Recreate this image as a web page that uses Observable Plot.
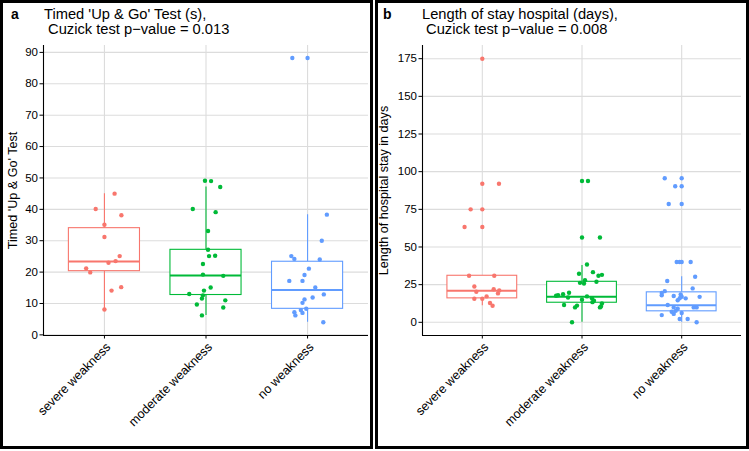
<!DOCTYPE html>
<html>
<head>
<meta charset="utf-8">
<script src="https://cdn.jsdelivr.net/npm/d3@7"></script>
<script src="https://cdn.jsdelivr.net/npm/@observablehq/plot@0.6"></script>
<style>
  html, body { margin: 0; padding: 0; background: white; }
  body { width: 749px; height: 451px; position: relative; overflow: hidden; font-family: "Liberation Sans", Arial, sans-serif; }
  .panel { position: absolute; box-sizing: border-box; border: 3px solid black; }
  .tag { position: absolute; font-size: 14px; font-weight: bold; line-height: 15px; }
  .title { position: absolute; font-size: 14.7px; line-height: 15px; white-space: pre; color: #000; }
  .plot { position: absolute; }
</style>
</head>
<body>
<div class="panel" style="left:0;top:0;width:373px;height:449px"></div>
<div class="panel" style="left:375px;top:0;width:374px;height:449px"></div>
<div class="tag" style="left:11px;top:7px">a</div>
<div class="title" style="left:44px;top:7px">Timed 'Up &amp; Go' Test (s),
 Cuzick test p−value = 0.013</div>
<div class="tag" style="left:383px;top:7px">b</div>
<div class="title" style="left:422px;top:7px">Length of stay hospital (days),
 Cuzick test p−value = 0.008</div>
<div id="pa" class="plot" style="left:3px;top:40px"></div>
<div id="pb" class="plot" style="left:378px;top:40px"></div>
<script>
// ---------- data ----------
const groups = ["severe weakness", "moderate weakness", "no weakness"];
const colors = ["#F8766D", "#00BA38", "#619CFF"];

// Panel a: Timed 'Up & Go' Test (s)
const tugSevere = [45.0, 40.1, 38.1, 35.1, 31.2, 25.1, 23.5, 23.0, 21.2, 19.9, 15.2, 14.1, 8.1];
const tugSevereJitter = [0.10, -0.086, 0.167, 0, 0, 0.15, 0.11, 0.04, -0.18, -0.14, 0.165, 0.07, 0];
const tugModerate = [49.1, 49.0, 47.1, 40.1, 39.1, 33.1, 27.1, 25.1, 25.2, 22.6, 19.2, 18.8, 15.1, 14.1, 13.0, 12.6, 11.6, 9.7, 11.0, 8.7, 6.2];
const tugModerateJitter = [-0.01, 0.05, 0.14, -0.13, 0.095, 0.02, 0.02, 0.03, 0.09, -0.03, -0.03, 0.17, 0.046, -0.02, -0.165, -0.03, -0.04, -0.09, 0.19, 0.17, -0.04];
const tugNo = [88.2, 88.2, 38.3, 30.0, 25.1, 24.2, 24.0, 21.1, 19.1, 17.2, 17.2, 15.1, 12.9, 11.9, 11.3, 10.2, 8.3, 7.9, 7.2, 6.2, 7.0, 4.0];
const tugNoJitter = [-0.15, 0, 0.19, 0.14, -0.16, -0.13, 0.12, 0.013, -0.03, -0.18, -0.05, 0.076, 0.16, 0.05, -0.03, -0.05, -0.013, -0.066, -0.13, -0.12, -0.05, 0.155];
const tugQ1 = [20.3, 12.7, 8.3];
const tugMedian = [23.4, 18.9, 14.3];
const tugQ3 = [34.0, 27.1, 23.3];
const tugLow = [8.1, 6.2, 4.0];
const tugHigh = [45.0, 47.1, 38.3];
const tugTicks = [0, 10, 20, 30, 40, 50, 60, 70, 80, 90];

// Panel b: Length of stay hospital (days)
const losSevere = [175, 92, 92, 75, 75, 63.3, 63.3, 30.9, 30.9, 23.8, 22.0, 21.2, 20.3, 19.2, 17.2, 15.6, 15.6, 12.8, 11.0];
const losSevereJitter = [0, 0, 0.167, -0.117, 0, -0.178, 0, -0.133, 0.12, -0.08, 0.114, 0.17, -0.06, 0.157, 0.043, -0.08, 0, 0.077, 0.103];
const losModerate = [93.8, 93.8, 56.3, 56.3, 38.4, 33.3, 32.2, 31.5, 30.9, 28.0, 26.9, 26.2, 25.8, 19.6, 18.7, 18.0, 17.6, 16.5, 17.2, 16.0, 15.0, 14.3, 13.4, 12.5, 11.5, 11.1, 9.9, 9.9, 10.5, 0];
const losModerateJitter = [0, 0.06, 0, 0.18, 0.05, 0.11, -0.03, 0.2, 0.165, 0.03, 0.145, -0.02, 0.02, -0.13, -0.19, -0.24, -0.26, -0.14, 0.05, 0.1, 0.0, 0.12, 0.105, 0.2, -0.18, -0.05, -0.07, 0.18, 0.19, -0.1];
const losNo = [95.6, 95.6, 90.3, 90.3, 78.5, 78.5, 40, 40, 40, 40, 30.2, 27.4, 22.5, 20.7, 19.5, 18.0, 17.5, 18.5, 17.0, 16.0, 14.6, 15.9, 16.9, 11.5, 9.9, 9.0, 9.9, 9.9, 7.6, 7.0, 6.2, 5.6, 4.8, 2.2, 2.2, 0];
const losNoJitter = [-0.17, 0, -0.065, 0, -0.13, 0, -0.05, -0.02, 0, 0.09, 0.135, -0.145, 0.11, -0.17, -0.2, -0.2, -0.08, -0.01, 0.0, -0.02, -0.04, 0.04, 0.18, -0.14, -0.08, -0.04, 0.12, 0.15, -0.06, -0.1, 0.0, -0.08, -0.2, -0.02, 0.06, 0.15];
const losQ1 = [15.9, 13.0, 7.3];
const losMedian = [20.9, 17.0, 11.3];
const losQ3 = [30.9, 26.9, 19.9];
const losLow = [11.0, 0, 0];
const losHigh = [30.9, 37.7, 30.2];
const losTicks = [0, 25, 50, 75, 100, 125, 150, 175];

// ---------- helpers ----------
function pointsTable(series, jitters) {
  const out = [];
  series.forEach((vals, gi) => vals.forEach((v, k) => out.push({group: groups[gi], pos: gi + 1 + jitters[gi][k], value: v})));
  return out;
}
function boxTable(q1, med, q3, lo, hi) {
  return groups.map((g, i) => ({group: g, c: i + 1, q1: q1[i], med: med[i], q3: q3[i], lo: lo[i], hi: hi[i]}));
}

function panel({pts, boxes, yDomain, yTicks, ylabel, width, marginLeft, marginRight, labelOffset}) {
  const half = 0.35;
  return Plot.plot({
    width, height: 406,
    marginLeft, marginRight, marginTop: 5, marginBottom: 111,
    style: {fontFamily: "'Liberation Sans', Arial, sans-serif", fontSize: "11.5px", color: "black", background: "transparent"},
    x: {type: "linear", domain: [0.4, 3.6]},
    y: {domain: yDomain},
    color: {domain: groups, range: colors},
    marks: [
      Plot.gridY(yTicks, {stroke: "#dcdcdc", strokeOpacity: 1, strokeWidth: 1.1}),
      Plot.gridX([1, 2, 3], {stroke: "#dcdcdc", strokeOpacity: 1, strokeWidth: 1.1}),
      Plot.ruleX(boxes, {x: "c", y1: "q3", y2: "hi", stroke: "group", strokeWidth: 1.1}),
      Plot.ruleX(boxes, {x: "c", y1: "lo", y2: "q1", stroke: "group", strokeWidth: 1.1}),
      Plot.rect(boxes, {x1: d => d.c - half, x2: d => d.c + half, y1: "q1", y2: "q3", fill: "white", stroke: "group", strokeWidth: 1.1}),
      Plot.ruleY(boxes, {y: "med", x1: d => d.c - half, x2: d => d.c + half, stroke: "group", strokeWidth: 2}),
      Plot.dot(pts, {x: "pos", y: "value", fill: "group", r: 2.2, stroke: null}),
      Plot.ruleX([0.4], {stroke: "black", strokeWidth: 1.1}),
      Plot.ruleY([yDomain[0]], {stroke: "black", strokeWidth: 1.1}),
      Plot.axisY({ticks: yTicks, tickSize: 3.5, tickPadding: 2, label: null, fontSize: 11.5}),
      Plot.axisY({ticks: [], tickSize: 0, label: ylabel, labelAnchor: "center", labelArrow: "none", labelOffset, fontSize: 12.6}),
      Plot.axisX({ticks: [1, 2, 3], tickSize: 3.5, tickFormat: () => "", label: null}),
      Plot.axisX({ticks: [1, 2, 3], tickSize: 0, tickPadding: 5.5, tickFormat: i => groups[i - 1], tickRotate: -45, label: null, fontSize: 12.5, dx: 4, dy: 4})
    ]
  });
}

document.getElementById("pa").append(panel({
  pts: pointsTable([tugSevere, tugModerate, tugNo], [tugSevereJitter, tugModerateJitter, tugNoJitter]),
  boxes: boxTable(tugQ1, tugMedian, tugQ3, tugLow, tugHigh),
  yDomain: [-0.2, 92.2], yTicks: tugTicks, ylabel: "Timed 'Up & Go' Test",
  width: 367, marginLeft: 40, marginRight: 2, labelOffset: 35
}));
document.getElementById("pb").append(panel({
  pts: pointsTable([losSevere, losModerate, losNo], [losSevereJitter, losModerateJitter, losNoJitter]),
  boxes: boxTable(losQ1, losMedian, losQ3, losLow, losHigh),
  yDomain: [-8.75, 183.75], yTicks: losTicks, ylabel: "Length of hospital stay in days",
  width: 368, marginLeft: 44, marginRight: 5, labelOffset: 43
}));
</script>
</body>
</html>
